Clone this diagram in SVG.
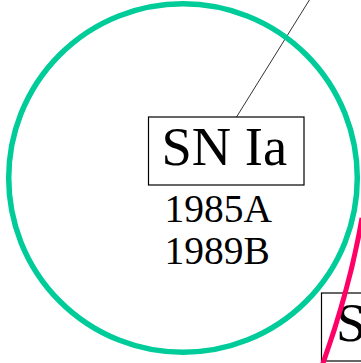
<svg xmlns="http://www.w3.org/2000/svg" width="361" height="363" viewBox="0 0 361 363">
<style>
.box{fill:#fff;stroke:#000;stroke-width:1.2}
.lbl{font-family:"Liberation Serif","Times New Roman",serif;fill:#000}
.big{font-size:54.5px}
.small{font-size:39.5px}
</style>
<rect width="361" height="363" fill="#fff"/>
<g id="connectors">
<line x1="310" y1="-1" x2="236.5" y2="117" stroke="#333" stroke-width="1"/>
</g>
<g id="node-s">
<rect class="box" x="321.5" y="293" width="160" height="68"/>
<text class="lbl big" x="336" y="340.5">S</text>
</g>
<g id="pink-curve">
<path d="M322,366 Q350,288 362,218" fill="none" stroke="#ff0066" stroke-width="5"/>
</g>
<g id="circle">
<circle cx="183" cy="178" r="174.3" fill="none" stroke="#00cc99" stroke-width="5.5"/>
</g>
<g id="node-snia">
<rect class="box" x="148.5" y="117" width="155.5" height="68"/>
<text class="lbl big" x="161.5" y="165">SN Ia</text>
<text class="lbl small" x="164.5" y="221.5">1985A</text>
<text class="lbl small" x="164.5" y="264">1989B</text>
</g>
</svg>
